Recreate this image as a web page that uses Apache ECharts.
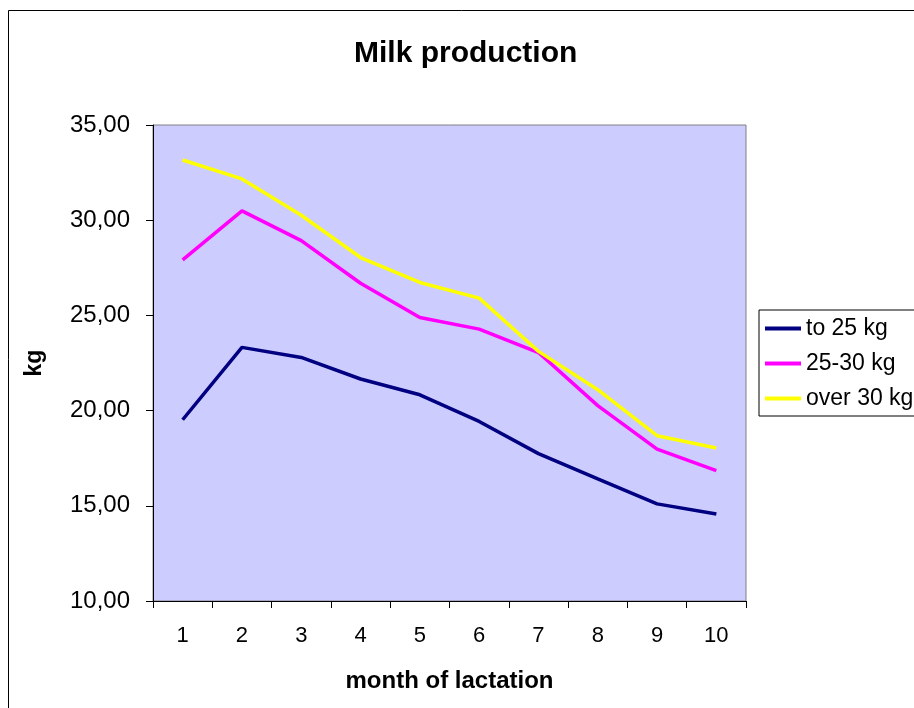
<!DOCTYPE html>
<html>
<head>
<meta charset="utf-8">
<script src="https://cdn.jsdelivr.net/npm/echarts@6/dist/echarts.min.js"></script>
<style>
  html, body { margin: 0; padding: 0; background: #ffffff; }
  #chart { width: 914px; height: 708px; }
</style>
</head>
<body>
<div id="chart"></div>
<script>
// Month of lactation (x axis categories)
var months = ['1', '2', '3', '4', '5', '6', '7', '8', '9', '10'];

// Average daily milk yield (kg) per group
var to25kg   = [19.52, 23.32, 22.79, 21.66, 20.83, 19.43, 17.74, 16.41, 15.10, 14.57];
var kg25to30 = [27.92, 30.49, 28.93, 26.69, 24.89, 24.28, 23.05, 20.26, 17.98, 16.85];
var over30kg = [33.16, 32.17, 30.26, 28.04, 26.73, 25.91, 23.11, 21.10, 18.68, 18.04];

var seriesNames = ['to 25 kg', '25-30 kg', 'over 30 kg'];

var FONT = "'Liberation Sans', Arial, sans-serif";

var chart = echarts.init(document.getElementById('chart'));

function lineSeries(name, data, color) {
  return {
    name: name,
    type: 'line',
    data: data,
    symbol: 'none',
    smooth: false,
    lineStyle: { color: color, width: 3.5 },
    itemStyle: { color: color },
    emphasis: { disabled: true }
  };
}

chart.setOption({
  animation: false,
  backgroundColor: '#ffffff',
  textStyle: { fontFamily: FONT },
  graphic: [{
    type: 'rect',
    shape: { x: 8.5, y: 10.5, width: 1000, height: 1000 },
    style: { fill: 'none', stroke: '#000000', lineWidth: 1 },
    z: -1
  }],
  title: {
    text: 'Milk production',
    left: 349,
    top: 34,
    textStyle: { fontFamily: FONT, fontSize: 30, fontWeight: 'bold', color: '#000000' }
  },
  legend: {
    orient: 'vertical',
    left: 759,
    top: 310,
    padding: [7, 14, 6, 6],
    icon: 'rect',
    itemWidth: 36,
    itemHeight: 4,
    itemGap: 12,
    borderColor: '#000000',
    borderWidth: 1,
    backgroundColor: '#ffffff',
    data: seriesNames,
    textStyle: { fontFamily: FONT, fontSize: 23, color: '#000000', lineHeight: 23 }
  },
  grid: {
    left: 153,
    top: 125,
    right: 168,
    bottom: 107,
    show: true,
    backgroundColor: '#CCCCFF',
    borderColor: '#808080',
    borderWidth: 1
  },
  xAxis: {
    type: 'category',
    data: months,
    boundaryGap: true,
    name: 'month of lactation',
    nameLocation: 'middle',
    nameGap: 68,
    nameTextStyle: { fontFamily: FONT, fontSize: 24, fontWeight: 'bold', color: '#000000' },
    axisLine: { lineStyle: { color: '#000000', width: 1 } },
    axisTick: { show: true, alignWithLabel: false, interval: 0, length: 7, lineStyle: { color: '#000000' } },
    axisLabel: { fontFamily: FONT, fontSize: 22, color: '#000000', margin: 24, interval: 0 },
    splitLine: { show: false }
  },
  yAxis: {
    type: 'value',
    min: 10,
    max: 35,
    interval: 5,
    name: 'kg',
    nameLocation: 'middle',
    nameGap: 107,
    nameRotate: 90,
    nameTextStyle: { fontFamily: FONT, fontSize: 23, fontWeight: 'bold', color: '#000000' },
    axisLine: { show: true, lineStyle: { color: '#000000', width: 1 } },
    axisTick: { show: true, length: 7, lineStyle: { color: '#000000' } },
    axisLabel: {
      fontFamily: FONT, fontSize: 24, color: '#000000', margin: 23,
      formatter: function (v) { return v.toFixed(2).replace('.', ','); }
    },
    splitLine: { show: false }
  },
  series: [
    lineSeries(seriesNames[0], to25kg, '#000080'),
    lineSeries(seriesNames[1], kg25to30, '#FF00FF'),
    lineSeries(seriesNames[2], over30kg, '#FFFF00')
  ]
});
</script>
</body>
</html>
